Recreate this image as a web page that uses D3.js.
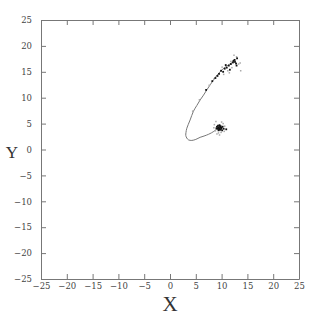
<!DOCTYPE html>
<html>
<head>
<meta charset="utf-8">
<script src="https://cdn.jsdelivr.net/npm/d3@7"></script>
<style>
  body { margin: 0; background: #fff; }
  .tick text { font-family: "DejaVu Serif", serif; font-size: 8.5px; fill: #444; }
  .axislabel { font-family: "Liberation Serif", serif; fill: #333; }
</style>
</head>
<body>
<div id="viz"></div>
<script>
// orbit curve (grey line)
const curveX = [9.19, 8.5, 7.5, 6.6, 5.84, 5.0, 4.23, 3.6, 3.26, 3.06, 3.1, 3.26, 3.9, 4.55, 5.2, 5.84, 6.5, 7.13, 7.8, 8.4, 9.0, 9.7, 10.3, 11.0, 11.6, 12.3, 12.8];
const curveY = [4.1, 3.5, 2.95, 2.6, 2.35, 1.95, 1.75, 1.85, 2.2, 2.7, 3.3, 4.1, 5.7, 7.4, 8.5, 9.56, 10.5, 11.5, 12.5, 13.4, 14.2, 15.0, 15.6, 16.1, 16.5, 17.0, 17.3];

// dark points
const darkX = [7.0, 8.2, 8.8, 9.5, 9.9, 10.3, 10.6, 11.0, 11.4, 11.8, 12.2, 12.5, 12.8, 12.6, 13.0, 12.3, 12.9, 10.8, 11.6, 9.2,
               9.2, 9.4, 9.6, 9.8, 9.3, 9.7, 10.0, 9.1, 9.5, 9.9, 10.2, 9.0, 9.6, 9.4, 10.4, 10.9, 9.8, 9.3, 9.7, 10.1];
const darkY = [11.5, 13.2, 13.8, 14.6, 15.2, 15.0, 15.6, 15.8, 16.2, 16.5, 16.8, 17.3, 16.6, 16.9, 17.6, 17.1, 16.2, 16.3, 15.4, 14.2,
               4.0, 4.3, 4.1, 4.5, 4.6, 3.8, 4.2, 4.4, 3.9, 4.0, 4.4, 4.1, 4.7, 3.7, 4.0, 3.9, 4.3, 4.1, 4.4, 3.7];

// light points
const lightX = [4.4, 5.7, 7.6, 8.5, 10.1, 11.2, 12.4, 13.7, 13.3, 11.8, 12.9, 11.5, 10.4, 13.6, 12.0,
                8.9, 8.6, 9.4, 9.6, 10.3, 8.8, 10.6, 9.1, 10.0, 9.9, 8.5, 10.5];
const lightY = [7.4, 9.6, 12.4, 13.6, 15.9, 15.2, 18.2, 15.2, 16.5, 17.0, 17.9, 14.8, 14.5, 16.7, 15.8,
                5.4, 4.8, 3.2, 2.8, 5.0, 3.6, 4.5, 3.0, 5.3, 3.3, 4.2, 3.5];

const tickValues = [-25, -20, -15, -10, -5, 0, 5, 10, 15, 20, 25];

const width = 335, height = 321;
const margin = {left: 41, right: 36, top: 20, bottom: 42};
const w = width - margin.left - margin.right;
const h = height - margin.top - margin.bottom;

let svg = d3.select("#viz")
  .append("svg")
    .attr("width", width)
    .attr("height", height);

let g = svg.append("g")
  .attr("transform", "translate(" + margin.left + "," + margin.top + ")");

let xScale = d3.scaleLinear().domain([-25, 25]).range([0, w]);
let yScale = d3.scaleLinear().domain([-25, 25]).range([h, 0]);

const fmt = d => d < 0 ? "\u2212" + Math.abs(d) : String(d);

// axes: ticks pointing inward on all four sides
g.append("g")
  .attr("transform", "translate(0," + h + ")")
  .call(d3.axisBottom(xScale).tickValues(tickValues).tickFormat(fmt).tickSizeInner(-5).tickSizeOuter(0).tickPadding(4));
g.append("g")
  .call(d3.axisLeft(yScale).tickValues(tickValues).tickFormat(fmt).tickSizeInner(-5).tickSizeOuter(0).tickPadding(9));
g.append("g")
  .call(d3.axisTop(xScale).tickValues(tickValues).tickFormat("").tickSizeInner(-5).tickSizeOuter(0));
g.append("g")
  .attr("transform", "translate(" + w + ",0)")
  .call(d3.axisRight(yScale).tickValues(tickValues).tickFormat("").tickSizeInner(-5).tickSizeOuter(0));

g.selectAll(".domain, .tick line").attr("stroke", "#777");

// curve
let line = d3.line()
  .x(i => xScale(curveX[i]))
  .y(i => yScale(curveY[i]))
  .curve(d3.curveCatmullRom);
g.append("path")
  .attr("d", line(d3.range(curveX.length)))
  .attr("fill", "none")
  .attr("stroke", "#777")
  .attr("stroke-width", 1);

// scatter points
g.selectAll(".light")
  .data(d3.range(lightX.length))
  .enter().append("rect")
    .attr("class", "light")
    .attr("x", i => xScale(lightX[i]) - 0.75)
    .attr("y", i => yScale(lightY[i]) - 0.75)
    .attr("width", 1.5).attr("height", 1.5)
    .attr("fill", "#aaa");

g.selectAll(".dark")
  .data(d3.range(darkX.length))
  .enter().append("rect")
    .attr("class", "dark")
    .attr("x", i => xScale(darkX[i]) - 0.9)
    .attr("y", i => yScale(darkY[i]) - 0.9)
    .attr("width", 1.8).attr("height", 1.8)
    .attr("fill", "#111");

// axis labels
svg.append("text")
  .attr("class", "axislabel")
  .attr("x", margin.left + w / 2)
  .attr("y", 311)
  .attr("text-anchor", "middle")
  .style("font-size", "21px")
  .text("X");
svg.append("text")
  .attr("class", "axislabel")
  .attr("x", 12)
  .attr("y", 158)
  .attr("text-anchor", "middle")
  .style("font-size", "17px")
  .text("Y");
</script>
</body>
</html>
